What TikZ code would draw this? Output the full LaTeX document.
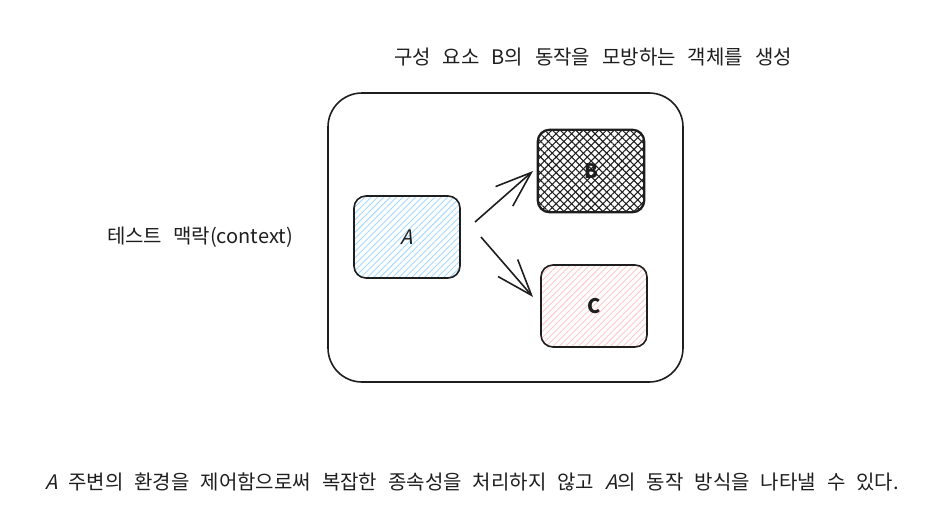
\documentclass[tikz,border=0pt]{standalone}
\usepackage{fontspec}
\usepackage{tikz}
\usepackage{xcolor}
\usetikzlibrary{arrows.meta, positioning, patterns.meta}
\setmainfont{Noto Sans CJK KR}
\newfontfamily\slantfont[FakeSlant=0.25]{Noto Sans CJK KR}
\definecolor{inkgray}{HTML}{1E1E1E}
\definecolor{hatchblue}{HTML}{A5D8FF}
\definecolor{hatchred}{HTML}{FFC9C9}

\begin{document}
\begin{tikzpicture}[x=1pt, y=-1pt,
    box/.style={draw=inkgray, line width=1.6pt, rounded corners=12pt, minimum width=106pt, minimum height=82pt, inner sep=0pt},
    tag/.style={font=\fontsize{20}{20}\selectfont, text=inkgray},
    lbl/.style={font=\fontsize{20}{22}\selectfont, text=inkgray, inner sep=0pt},
    arr/.style={draw=inkgray, line width=1.6pt, -{Straight Barb[length=36pt, width=26pt]}}]
    \useasboundingbox (0,0) rectangle (928,511);
    % context frame
    \draw[inkgray, line width=1.6pt, rounded corners=34pt] (328,93) rectangle (683,382);
    % components
    \node[box, pattern={Lines[angle=45, distance=4.5pt, line width=0.9pt]}, pattern color=hatchblue] (a) at (407,237) {};
    \node[box, pattern={Lines[angle=45, distance=5.5pt, line width=1.1pt]}, pattern color=inkgray] (b) at (591,171) {};
    \fill[pattern={Lines[angle=-45, distance=5.5pt, line width=1.1pt]}, pattern color=inkgray, rounded corners=12pt] (b.south west) rectangle (b.north east);
    \draw[inkgray, line width=1.6pt, rounded corners=12pt] (b.south west) rectangle (b.north east);
    \node[box, pattern={Lines[angle=45, distance=4.5pt, line width=0.9pt]}, pattern color=hatchred] (c) at (594,306) {};
    \node[tag, font=\fontsize{20}{20}\slantfont] (ta) at (a) {A};
    \node[tag, font=\fontsize{20}{20}\selectfont\bfseries] (tb) at (b) {B};
    \node[tag, font=\fontsize{20}{20}\selectfont\bfseries] (tc) at (c) {C};
    % mock arrows
    \coordinate (ab0) at (475,222);
    \coordinate (ab1) at (533,171);
    \coordinate (ac0) at (481,237);
    \coordinate (ac1) at (533,297);
    \draw[arr] (ab0) -- (ab1);
    \draw[arr] (ac0) -- (ac1);
    % texts
    \node[lbl] (title) at (593,57) {구성\hspace{0.6em}요소\hspace{0.6em}B의\hspace{0.6em}동작을\hspace{0.6em}모방하는\hspace{0.6em}객체를\hspace{0.6em}생성};
    \node[lbl] (ctx) at (200,237) {테스트\hspace{0.55em}맥락(context)};
    \node[lbl] (note) at (472,482) {{\slantfont A}\hspace{0.55em}주변의\hspace{0.55em}환경을\hspace{0.55em}제어함으로써\hspace{0.55em}복잡한\hspace{0.55em}종속성을\hspace{0.55em}처리하지\hspace{0.55em}않고\hspace{0.55em}{\slantfont A}의\hspace{0.55em}동작\hspace{0.55em}방식을\hspace{0.55em}나타낼\hspace{0.55em}수\hspace{0.55em}있다.};
\end{tikzpicture}
\end{document}
